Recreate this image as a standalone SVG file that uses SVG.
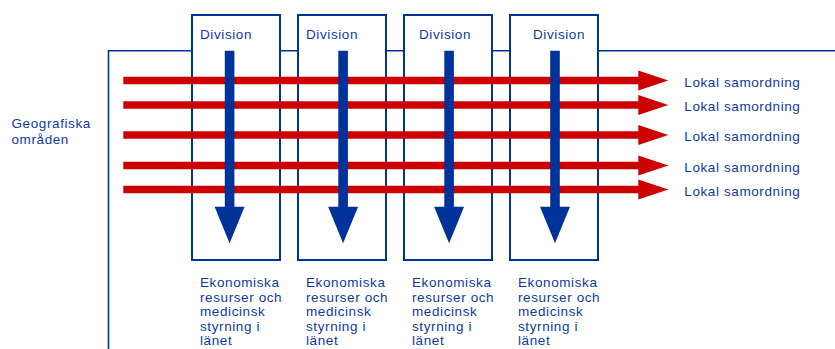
<svg xmlns="http://www.w3.org/2000/svg" width="835" height="349" viewBox="0 0 835 349">
<defs>
<style>
.frame{fill:none;stroke:#003399;stroke-width:1.6}
.box{fill:#ffffff;stroke:#003399;stroke-width:2}
.t{font-family:"Liberation Sans",Arial,sans-serif;font-size:13.5px;fill:#0f3a9a;letter-spacing:0.6px}
.red{fill:#cc0000}
.blue{fill:#003399}
</style>
</defs>
<rect width="835" height="349" fill="#ffffff"/>
<path class="frame" d="M108.5,349 V50.8 H835"/>
<g id="geo"><text class="t" x="11.5" y="128">Geografiska</text><text class="t" x="11.5" y="143.5">områden</text></g>
<g id="div1"><rect class="box" x="192" y="15" width="88" height="245"/><text class="t" x="200" y="39">Division</text></g>
<g id="div2"><rect class="box" x="298" y="15" width="88" height="245"/><text class="t" x="306" y="39">Division</text></g>
<g id="div3"><rect class="box" x="404" y="15" width="88" height="245"/><text class="t" x="419" y="39">Division</text></g>
<g id="div4"><rect class="box" x="510" y="15" width="88" height="245"/><text class="t" x="533" y="39">Division</text></g>
<g id="connectors">
<g id="red-arrows">
<path class="red" d="M123.3,76.7 H638.3 V70.5 L668.3,80.5 L638.3,90.5 V84.3 H123.3 Z"/>
<path class="red" d="M123.3,101.2 H638.3 V95 L668.3,105 L638.3,115 V108.8 H123.3 Z"/>
<path class="red" d="M123.3,131.2 H638.3 V125 L668.3,135 L638.3,145 V138.8 H123.3 Z"/>
<path class="red" d="M123.3,161.7 H638.3 V155.5 L668.3,165.5 L638.3,175.5 V169.3 H123.3 Z"/>
<path class="red" d="M123.3,185.7 H638.3 V179.5 L668.3,189.5 L638.3,199.5 V193.3 H123.3 Z"/>
</g>
<g id="blue-arrows">
<path class="blue" d="M224.8,50.7 H234.4 V206.7 L244.6,206.7 L229.6,243.3 L214.6,206.7 H224.8 Z"/>
<path class="blue" d="M338.3,50.7 H347.9 V206.7 L358.1,206.7 L343.1,243.3 L328.1,206.7 H338.3 Z"/>
<path class="blue" d="M444.3,50.7 H453.9 V206.7 L464.1,206.7 L449.1,243.3 L434.1,206.7 H444.3 Z"/>
<path class="blue" d="M550.2,50.7 H559.8 V206.7 L570,206.7 L555,243.3 L540,206.7 H550.2 Z"/>
</g>
</g>
<g id="lokal">
<text class="t" x="684.3" y="87">Lokal samordning</text>
<text class="t" x="684.3" y="111">Lokal samordning</text>
<text class="t" x="684.3" y="141">Lokal samordning</text>
<text class="t" x="684.3" y="172">Lokal samordning</text>
<text class="t" x="684.3" y="196">Lokal samordning</text>
</g>
<g id="res1"><text class="t" x="200"><tspan x="200" y="287.3">Ekonomiska</tspan><tspan x="200" y="301.7">resurser och</tspan><tspan x="200" y="316">medicinsk</tspan><tspan x="200" y="330.5">styrning i</tspan><tspan x="200" y="345">länet</tspan></text></g>
<g id="res2"><text class="t"><tspan x="306" y="287.3">Ekonomiska</tspan><tspan x="306" y="301.7">resurser och</tspan><tspan x="306" y="316">medicinsk</tspan><tspan x="306" y="330.5">styrning i</tspan><tspan x="306" y="345">länet</tspan></text></g>
<g id="res3"><text class="t"><tspan x="412" y="287.3">Ekonomiska</tspan><tspan x="412" y="301.7">resurser och</tspan><tspan x="412" y="316">medicinsk</tspan><tspan x="412" y="330.5">styrning i</tspan><tspan x="412" y="345">länet</tspan></text></g>
<g id="res4"><text class="t"><tspan x="518" y="287.3">Ekonomiska</tspan><tspan x="518" y="301.7">resurser och</tspan><tspan x="518" y="316">medicinsk</tspan><tspan x="518" y="330.5">styrning i</tspan><tspan x="518" y="345">länet</tspan></text></g>
</svg>
